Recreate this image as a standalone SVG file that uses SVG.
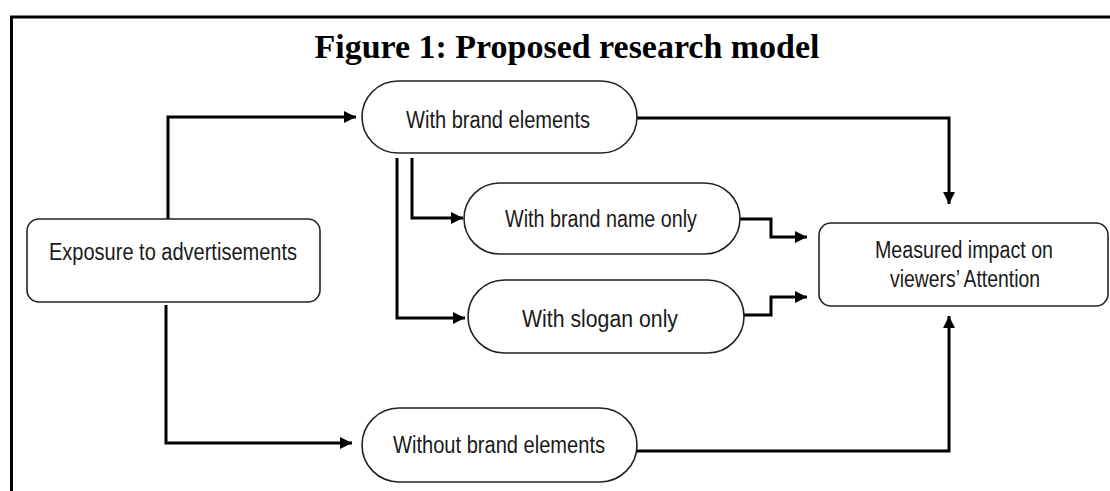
<svg xmlns="http://www.w3.org/2000/svg" width="1110" height="491" viewBox="0 0 1110 491">
  <defs>
    <style>
      .node { fill: #ffffff; stroke: #222222; stroke-width: 1.6; }
      .lbl { font-family: "Liberation Sans", Arial, sans-serif; font-size: 23.5px; fill: #1a1a1a; text-anchor: middle; }
      .conn { fill: none; stroke: #000000; stroke-width: 3; }
      .title { font-family: "Liberation Serif", "Times New Roman", serif; font-size: 34px; font-weight: bold; fill: #000000; text-anchor: middle; }
    </style>
    <marker id="arrow" viewBox="0 0 12 12" refX="12" refY="6" markerWidth="12" markerHeight="12" markerUnits="userSpaceOnUse" orient="auto">
      <path d="M0,0 L12,6 L0,12 z" fill="#000000"/>
    </marker>
  </defs>
  <rect x="0" y="0" width="1110" height="491" fill="#ffffff"/>
  <path d="M11.5,491 L11.5,17 L1110,17" fill="none" stroke="#000000" stroke-width="3"/>
  <text class="title" x="567" y="58" textLength="505" lengthAdjust="spacingAndGlyphs">Figure 1: Proposed research model</text>

  <g id="connectors">
    <path class="conn" d="M168,219 L168,117 L356,117" marker-end="url(#arrow)"/>
    <path class="conn" d="M166,305 L166,443 L352,443" marker-end="url(#arrow)"/>
    <path class="conn" d="M637,118 L949,118 L949,204" marker-end="url(#arrow)"/>
    <path class="conn" d="M637,451 L949,451 L949,316" marker-end="url(#arrow)"/>
    <path class="conn" d="M412,158 L412,218 L463,218" marker-end="url(#arrow)"/>
    <path class="conn" d="M397,158 L397,318 L465,318" marker-end="url(#arrow)"/>
    <path class="conn" d="M740,219 L771,219 L771,237 L807,237" marker-end="url(#arrow)"/>
    <path class="conn" d="M744,315 L771,315 L771,297 L807,297" marker-end="url(#arrow)"/>
  </g>

  <g id="exposure">
    <rect class="node" x="27" y="219" width="293" height="83" rx="12" ry="12"/>
    <text class="lbl" x="173" y="260" textLength="248" lengthAdjust="spacingAndGlyphs">Exposure to advertisements</text>
  </g>
  <g id="with-brand-elements">
    <rect class="node" x="362" y="81" width="275" height="72" rx="36" ry="36"/>
    <text class="lbl" x="498" y="128" textLength="184" lengthAdjust="spacingAndGlyphs">With brand elements</text>
  </g>
  <g id="with-brand-name-only">
    <rect class="node" x="464" y="183" width="276" height="71" rx="35.5" ry="35.5"/>
    <text class="lbl" x="601" y="227" textLength="192" lengthAdjust="spacingAndGlyphs">With brand name only</text>
  </g>
  <g id="with-slogan-only">
    <rect class="node" x="468" y="280" width="276" height="73" rx="36.5" ry="36.5"/>
    <text class="lbl" x="600" y="327" textLength="156" lengthAdjust="spacingAndGlyphs">With slogan only</text>
  </g>
  <g id="without-brand-elements">
    <rect class="node" x="362" y="408" width="275" height="74" rx="37" ry="37"/>
    <text class="lbl" x="499" y="453" textLength="212" lengthAdjust="spacingAndGlyphs">Without brand elements</text>
  </g>
  <g id="measured-impact">
    <rect class="node" x="819" y="223" width="289" height="83" rx="12" ry="12"/>
    <text class="lbl" x="964" y="258" textLength="178" lengthAdjust="spacingAndGlyphs">Measured impact on</text>
    <text class="lbl" x="965" y="287" textLength="150" lengthAdjust="spacingAndGlyphs">viewers’ Attention</text>
  </g>
</svg>
